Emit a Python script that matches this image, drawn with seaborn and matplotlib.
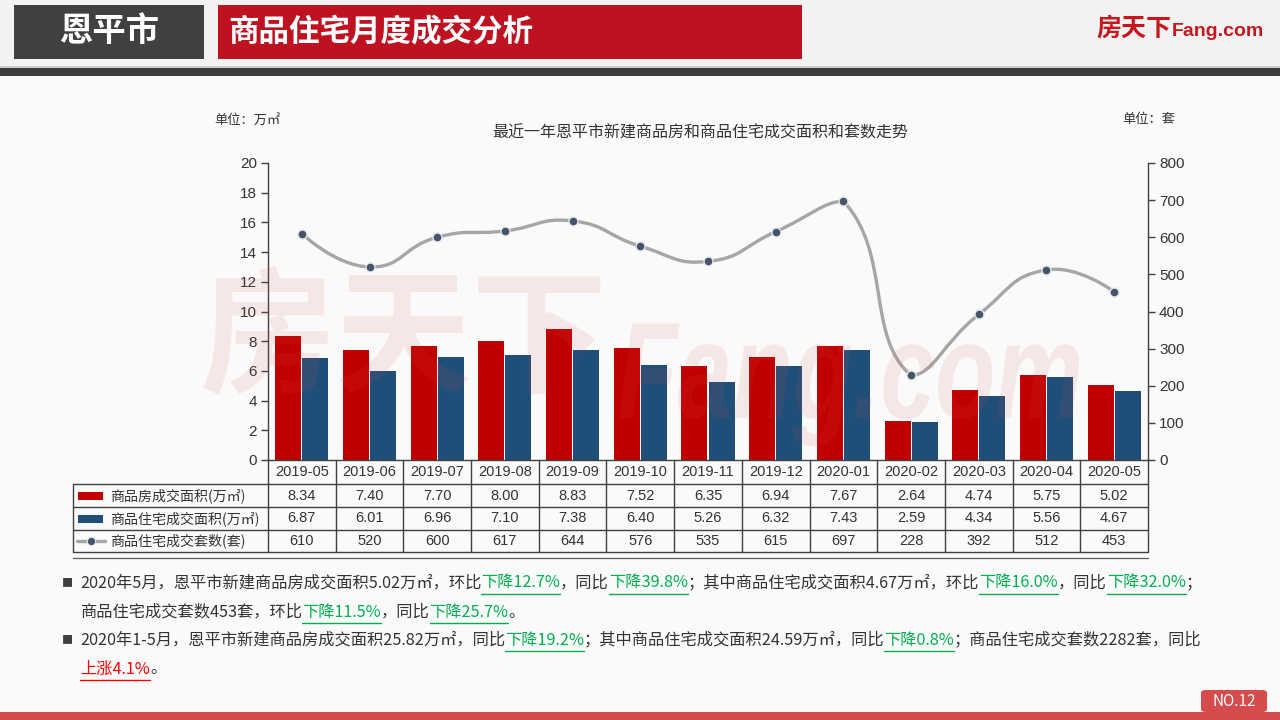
import numpy as np
import pandas as pd
import matplotlib
matplotlib.use('Agg')
import matplotlib.pyplot as plt
import seaborn as sns
from matplotlib.path import Path
from matplotlib.patches import PathPatch, Rectangle, FancyBboxPatch
from matplotlib.lines import Line2D
from matplotlib.textpath import TextPath
from matplotlib.font_manager import FontProperties, findfont
from matplotlib.transforms import Affine2D
from matplotlib.ft2font import FT2Font

try:
    from matplotlib.ft2font import LoadFlags
    NO_HINT = LoadFlags.NO_HINTING
except ImportError:
    from matplotlib.ft2font import LOAD_NO_HINTING as NO_HINT

# ---- data ----
months = ['2019-05', '2019-06', '2019-07', '2019-08', '2019-09', '2019-10', '2019-11',
          '2019-12', '2020-01', '2020-02', '2020-03', '2020-04', '2020-05']
area_all = [8.34, 7.40, 7.70, 8.00, 8.83, 7.52, 6.35, 6.94, 7.67, 2.64, 4.74, 5.75, 5.02]
area_res = [6.87, 6.01, 6.96, 7.10, 7.38, 6.40, 5.26, 6.32, 7.43, 2.59, 4.34, 5.56, 4.67]
units_res = [610, 520, 600, 617, 644, 576, 535, 615, 697, 228, 392, 512, 453]
series_names = ['商品房成交面积(万㎡)', '商品住宅成交面积(万㎡)', '商品住宅成交套数(套)']

chart_title = '最近一年恩平市新建商品房和商品住宅成交面积和套数走势'
city = '恩平市'
page_title = '商品住宅月度成交分析'

# paragraph runs: (text, style) d=default, g=green, r=red
para_lines = [
    [('2020年5月，恩平市新建商品房成交面积5.02万㎡，环比', 'd'), ('下降12.7%', 'g'), ('，同比', 'd'),
     ('下降39.8%', 'g'), ('；其中商品住宅成交面积4.67万㎡，环比', 'd'), ('下降16.0%', 'g'),
     ('，同比', 'd'), ('下降32.0%', 'g'), ('；', 'd')],
    [('商品住宅成交套数453套，环比', 'd'), ('下降11.5%', 'g'), ('，同比', 'd'), ('下降25.7%', 'g'), ('。', 'd')],
    [('2020年1-5月，恩平市新建商品房成交面积25.82万㎡，同比', 'd'), ('下降19.2%', 'g'),
     ('；其中商品住宅成交面积24.59万㎡，同比', 'd'), ('下降0.8%', 'g'), ('；商品住宅成交套数2282套，同比', 'd')],
    [('上涨4.1%', 'r'), ('。', 'd')],
]
bullet_lines = [0, 2]

RED = '#c00000'
BLUE = '#1f4e79'
GRAY = '#a6a6a6'
DOT = '#44546a'
TXT = '#333333'

sns.set_theme(style='white')
plt.rcParams['font.family'] = ['Noto Sans CJK SC', 'DejaVu Sans']
plt.rcParams['axes.unicode_minus'] = False

W, H = 1280, 720
fig = plt.figure(figsize=(12.8, 7.2), dpi=100)
fig.patch.set_facecolor('#fafafa')


def fx(x):
    return x / W


def fy(y):
    return 1 - y / H


def box(x0, y0, x1, y1, color, **kw):
    fig.add_artist(Rectangle((fx(x0), fy(y1)), (x1 - x0) / W, (y1 - y0) / H,
                             transform=fig.transFigure, color=color, lw=0, **kw))


def hline(x0, x1, y, color='#404040', lw=1.0):
    fig.add_artist(Line2D([fx(x0), fx(x1)], [fy(y), fy(y)], transform=fig.transFigure, color=color, lw=lw))


def vline(x, y0, y1, color='#404040', lw=1.0):
    fig.add_artist(Line2D([fx(x), fx(x)], [fy(y0), fy(y1)], transform=fig.transFigure, color=color, lw=lw))


# ---- slide frame ----
box(0, 0, W, 66, '#f2f2f2')
box(0, 66, W, 68, '#cfcfcf')
box(0, 68, W, 76, '#3c3c3c')
box(14, 5, 204, 59, '#404040')
box(218, 5, 802, 59, '#bf1220')
fig.text(fx(109), fy(32), city, color='white', fontsize=24, fontweight='bold', ha='center', va='center')
fig.text(fx(228), fy(32), page_title, color='white', fontsize=22, fontweight='bold', ha='left', va='center')
fig.text(fx(1096), fy(29), '房天下', color='#c8161d', fontsize=18, fontweight='bold', ha='left', va='center')
fig.text(fx(1172), fy(32), 'Fang.com', color='#c8161d', fontsize=14, fontweight='bold', ha='left', va='center',
         family=['Liberation Sans Narrow', 'Liberation Sans', 'DejaVu Sans'])
box(0, 712, W, 720, '#d64b4b')
fig.add_artist(FancyBboxPatch((fx(1201), fy(712)), 66 / W, 22 / H, boxstyle='round,pad=0,rounding_size=0.004',
                              transform=fig.transFigure, color='#d64b4b', lw=0))
fig.text(fx(1234), fy(701), 'NO.12', color='white', fontsize=11, ha='center', va='center')

# ---- chart ----
ax = fig.add_axes([fx(268), fy(460), 880 / W, 297 / H])
ax.set_facecolor('none')
df = pd.DataFrame({'月份': months * 2,
                   '系列': [series_names[0]] * len(months) + [series_names[1]] * len(months),
                   '面积': area_all + area_res})
sns.barplot(data=df, x='月份', y='面积', hue='系列', palette=[RED, BLUE], width=0.8, gap=0.04,
            saturation=1, linewidth=0, legend=False, ax=ax, zorder=2)
ax.set_xlim(-0.5, len(months) - 0.5)
ax.set_ylim(0, 20)
ax.set_yticks(range(0, 21, 2))
ax.set_xticks([])
ax.set_xlabel('')
ax.set_ylabel('')
for s in ['top', 'right']:
    ax.spines[s].set_visible(False)
for s in ['left', 'bottom']:
    ax.spines[s].set_color('#404040')
    ax.spines[s].set_linewidth(1)
ax.tick_params(axis='y', left=True, length=5, width=1, color='#404040', labelsize=11, labelcolor=TXT, pad=3)

ax2 = ax.twinx()
ax2.set_facecolor('none')
ax2.set_ylim(0, 800)
ax2.set_yticks(range(0, 801, 100))
for s in ['top', 'left', 'bottom']:
    ax2.spines[s].set_visible(False)
ax2.spines['right'].set_color('#404040')
ax2.spines['right'].set_linewidth(1)
ax2.tick_params(axis='y', right=True, length=5, width=1, color='#404040', labelsize=11, labelcolor=TXT, pad=3)
for lab in ax.get_yticklabels() + ax2.get_yticklabels():
    lab.set_family(['Liberation Sans', 'DejaVu Sans'])

# smooth line (echarts-style bezier smoothing with bounding constraint), built in pixel scale
sx = 880 / len(months)
sy = 297 / 800
pts = np.column_stack([np.arange(len(units_res)) * sx, np.array(units_res) * sy])
lo, hi = pts.min(axis=0), pts.max(axis=0)
cps = []
for i in range(len(pts)):
    if i == 0 or i == len(pts) - 1:
        cps.append(pts[i])
        continue
    v = (pts[i + 1] - pts[i - 1]) * 0.5
    d0 = np.hypot(*(pts[i] - pts[i - 1]))
    d1 = np.hypot(*(pts[i] - pts[i + 1]))
    tot = d0 + d1
    cps.append(np.clip(pts[i] - v * d0 / tot, lo, hi))
    cps.append(np.clip(pts[i] + v * d1 / tot, lo, hi))
verts = [pts[0]]
codes = [Path.MOVETO]
for i in range(len(pts) - 1):
    verts += [cps[2 * i], cps[2 * i + 1], pts[i + 1]]
    codes += [Path.CURVE4] * 3
verts = np.array(verts) / np.array([sx, sy])
ax2.add_patch(PathPatch(Path(verts, codes), facecolor='none', edgecolor=GRAY, lw=2.4, zorder=3,
                        capstyle='round'))
sns.scatterplot(x=np.arange(len(units_res)), y=units_res, ax=ax2, color=DOT, s=42,
                edgecolor='#e6e6e6', linewidth=1, zorder=4, legend=False)
ax2.set_xlim(-0.5, len(months) - 0.5)
ax2.set_ylim(0, 800)
ax2.set_ylabel('')

# watermark
ax2.text(fx(200), fy(342), '房天下', transform=fig.transFigure, fontsize=98, color='#d9534f', alpha=0.11,
         ha='left', va='center', zorder=5, fontweight='bold')
wm = TextPath((0, 0), 'Fang.com', size=1,
              prop=FontProperties(family='Liberation Sans', weight='bold', style='italic'))
wb = wm.get_extents()
k_x = 460 / wb.width
k_y = 100 / 0.729
wm_tr = Affine2D().translate(-wb.x0, 0).scale(k_x / W, k_y / H).translate(fx(619), fy(418)) + fig.transFigure
ax2.add_artist(PathPatch(wm, transform=wm_tr, facecolor='#d9534f', alpha=0.11, lw=0, zorder=5, clip_on=False))

fig.text(fx(700), fy(133), chart_title, color=TXT, fontsize=11.5, ha='center', va='center')
fig.text(fx(214), fy(120), '单位：万㎡', color=TXT, fontsize=9.5, ha='left', va='center')
fig.text(fx(1122), fy(120), '单位：套', color=TXT, fontsize=9.5, ha='left', va='center')

# ---- data table under the axis ----
row_edges = [460, 484, 507, 530, 552]
left_px = 73
col_px = [ax.transData.transform((i - 0.5, 0))[0] for i in range(len(months) + 1)]
centers = [ax.transData.transform((i, 0))[0] for i in range(len(months))]
for x in col_px:
    vline(x, row_edges[0], row_edges[-1])
vline(left_px, row_edges[1], row_edges[-1])
for y in row_edges[1:]:
    hline(left_px, col_px[-1], y)
hline(left_px, col_px[-1], 558, color='#5a5a5a', lw=0.9)

num_family = ['Liberation Sans', 'Noto Sans CJK SC']
for c, m in zip(centers, months):
    fig.text(fx(c), fy(472.5), m, ha='center', va='center', fontsize=10.5, color=TXT, family=num_family)
rows = [[f'{v:.2f}' for v in area_all], [f'{v:.2f}' for v in area_res], [str(v) for v in units_res]]
for r, vals in enumerate(rows):
    yc = (row_edges[r + 1] + row_edges[r + 2]) / 2
    for c, v in zip(centers, vals):
        fig.text(fx(c), fy(yc), v, ha='center', va='center', fontsize=10.5, color=TXT, family=num_family)
    fig.text(fx(110), fy(yc), series_names[r], ha='left', va='center', fontsize=10.1, color=TXT)
y1 = (row_edges[1] + row_edges[2]) / 2
y2 = (row_edges[2] + row_edges[3]) / 2
y3 = (row_edges[3] + row_edges[4]) / 2
box(78, y1 - 4, 103, y1 + 4, RED)
box(78, y2 - 4, 103, y2 + 4, BLUE)
fig.add_artist(Line2D([fx(77), fx(105)], [fy(y3), fy(y3)], transform=fig.transFigure, color=GRAY, lw=2.4))
fig.add_artist(Line2D([fx(91)], [fy(y3)], transform=fig.transFigure, marker='o', ms=6, color=DOT,
                      markeredgecolor='#e6e6e6', markeredgewidth=0.8))

# ---- commentary: runs laid out by glyph advances ----
colors = {'d': '#333333', 'g': '#00b050', 'r': '#ff0000'}
line_y = [583, 612, 640, 669]
FS = 11.7
ft = FT2Font(findfont(FontProperties(family='Noto Sans CJK SC')), hinting_factor=1)
ft.set_size(FS, 100)


def advance(s):
    total = 0.0
    for ch in s:
        g = ft.load_char(ord(ch), flags=NO_HINT)
        total += g.linearHoriAdvance / 65536
    return total


for li, runs in enumerate(para_lines):
    y = line_y[li]
    if li in bullet_lines:
        fig.text(fx(67), fy(y), '■', ha='center', va='center', fontsize=8, color='#404040')
    x = 80.0
    for txt, st in runs:
        fig.text(fx(x), fy(y), txt, ha='left', va='center', fontsize=FS, color=colors[st])
        w = advance(txt)
        if st != 'd':
            hline(x, x + w, y + 10.5, color=colors[st], lw=1)
        x += w

fig.savefig('out.png', dpi=100, facecolor=fig.get_facecolor())
